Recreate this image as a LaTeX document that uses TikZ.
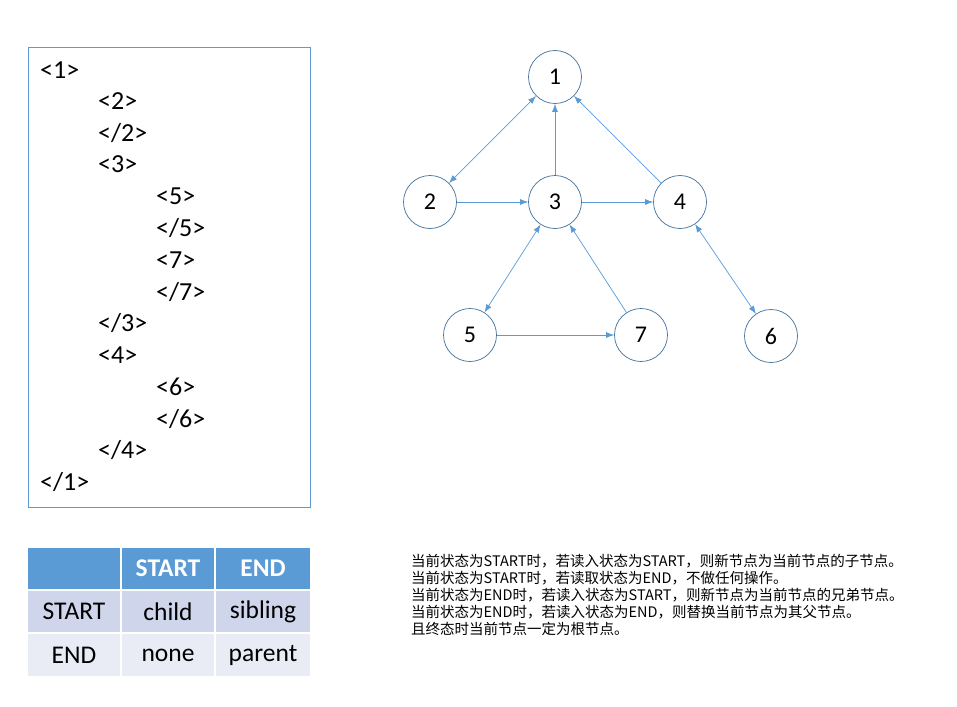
\documentclass[tikz,border=0pt]{standalone}
\usepackage{fontspec}
\setmainfont{Carlito}
\newfontfamily\cjk{Noto Sans CJK SC}
\usetikzlibrary{arrows.meta}
\definecolor{arr}{HTML}{5B9BD5}
\definecolor{ring}{HTML}{41719C}
\definecolor{hdr}{HTML}{5B9BD5}
\definecolor{rowa}{HTML}{CFD5EA}
\definecolor{rowb}{HTML}{E9EBF5}
\begin{document}
\begin{tikzpicture}[x=1pt,y=-1pt,
  vtx/.style={circle,draw=ring,line width=0.7pt,minimum size=53pt,inner sep=0pt,font=\fontsize{24}{24}\selectfont},
  edge/.style={draw=arr,line width=0.7pt,-{Latex[length=8pt,width=6pt]}},
  bedge/.style={draw=arr,line width=0.7pt,{Latex[length=8pt,width=6pt]}-{Latex[length=8pt,width=6pt]}},
  codeln/.style={anchor=west,inner sep=0pt,font=\fontsize{26}{26}\selectfont},
  cell/.style={minimum width=92pt,minimum height=41pt,inner sep=0pt,font=\fontsize{25.5}{25.5}\selectfont},
  note/.style={anchor=west,inner sep=0pt,font=\cjk\fontsize{14.5}{14.5}\selectfont}]
\useasboundingbox (0,0) rectangle (957,706);
\fill[white] (0,0) rectangle (957,706);
% code box
\node[draw=arr,line width=0.7pt,minimum width=282pt,minimum height=460pt,inner sep=0pt] (codebox) at (169,277) {};
\node[codeln] (c1) at (40,70) {<1>};
\node[codeln] (c2) at (98,101) {<2>};
\node[codeln] (c3) at (98,133) {</2>};
\node[codeln] (c4) at (98,164) {<3>};
\node[codeln] (c5) at (156,196) {<5>};
\node[codeln] (c6) at (156,228) {</5>};
\node[codeln] (c7) at (156,260) {<7>};
\node[codeln] (c8) at (156,292) {</7>};
\node[codeln] (c9) at (98,323) {</3>};
\node[codeln] (c10) at (98,355) {<4>};
\node[codeln] (c11) at (156,387) {<6>};
\node[codeln] (c12) at (156,419) {</6>};
\node[codeln] (c13) at (98,450) {</4>};
\node[codeln] (c14) at (40,482) {</1>};
% graph
\node[vtx] (n1) at (555,77) {1};
\node[vtx] (n2) at (430,202) {2};
\node[vtx] (n3) at (555,202) {3};
\node[vtx] (n4) at (680,202) {4};
\node[vtx] (n5) at (470,335) {5};
\node[vtx] (n7) at (641,335) {7};
\node[vtx] (n6) at (771,336) {6};
\draw[bedge] (n1) -- (n2);
\draw[edge] (n3) -- (n1);
\draw[edge] (n4) -- (n1);
\draw[edge] (n2) -- (n3);
\draw[edge] (n3) -- (n4);
\draw[bedge] (n3) -- (n5);
\draw[edge] (n7) -- (n3);
\draw[bedge] (n4) -- (n6);
\draw[edge] (n5) -- (n7);
% table
\node[cell,fill=hdr] (t11) at (74,568.5) {};
\node[cell,fill=hdr,text=white,font=\bfseries\fontsize{25.5}{25.5}\selectfont] (t12) at (168,568.5) {START};
\node[cell,fill=hdr,text=white,font=\bfseries\fontsize{25.5}{25.5}\selectfont,minimum width=94pt] (t13) at (263,568.5) {END};
\node[cell,fill=rowa] (t21) at (74,611.5) {START};
\node[cell,fill=rowa] (t22) at (168,611.5) {child};
\node[cell,fill=rowa,minimum width=94pt] (t23) at (263,611.5) {sibling};
\node[cell,fill=rowb,minimum height=42pt] (t31) at (74,655) {END};
\node[cell,fill=rowb,minimum height=42pt] (t32) at (168,655) {none};
\node[cell,fill=rowb,minimum width=94pt,minimum height=42pt] (t33) at (263,655) {parent};
% notes
\node[note] (l1) at (411,561) {当前状态为START时，若读入状态为START，则新节点为当前节点的子节点。};
\node[note] (l2) at (411,578) {当前状态为START时，若读取状态为END，不做任何操作。};
\node[note] (l3) at (411,595) {当前状态为END时，若读入状态为START，则新节点为当前节点的兄弟节点。};
\node[note] (l4) at (411,612) {当前状态为END时，若读入状态为END，则替换当前节点为其父节点。};
\node[note] (l5) at (411,629) {且终态时当前节点一定为根节点。};
\end{tikzpicture}
\end{document}
